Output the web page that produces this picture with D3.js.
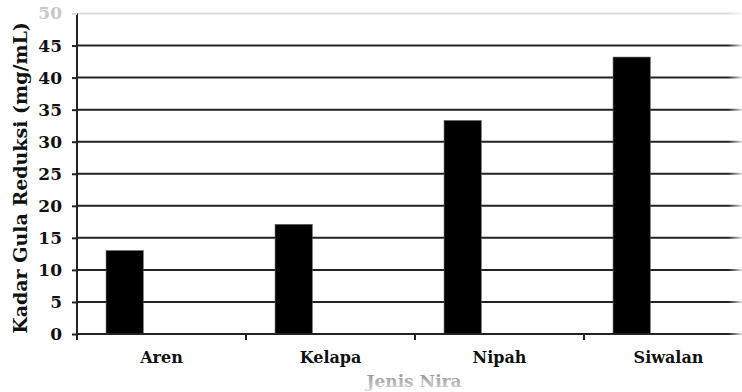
<!DOCTYPE html>
<html>
<head>
<meta charset="utf-8">
<script src="https://cdn.jsdelivr.net/npm/d3@7"></script>
<style>
  body { margin: 0; background: #fff; }
  svg text { font-family: "DejaVu Serif", "Liberation Serif", serif; font-weight: bold; }
</style>
</head>
<body>
<div id="vis"></div>
<script>
'use strict'

// jenis nira dan kadar gula reduksi (mg/mL)
const categories = ["Aren", "Kelapa", "Nipah", "Siwalan"]
const values = [13.0, 17.1, 33.3, 43.2]
const yTicks = [0, 5, 10, 15, 20, 25, 30, 35, 40, 45, 50]

const width = 742, height = 392
const margin = {left: 77, top: 13.5, bottom: 58}

let svg = d3.select("#vis").append("svg")
  .attr("width", width)
  .attr("height", height)

let defs = svg.append("defs")
let grad = defs.append("linearGradient").attr("id", "fadeTitle")
  .attr("x1", 0).attr("y1", 0).attr("x2", 0).attr("y2", 1)
grad.append("stop").attr("offset", "0%").attr("stop-color", "#8a8a8a")
grad.append("stop").attr("offset", "100%").attr("stop-color", "#d8d8d8")

let gradR = defs.append("linearGradient").attr("id", "fadeRight")
  .attr("x1", 0).attr("y1", 0).attr("x2", 1).attr("y2", 0)
gradR.append("stop").attr("offset", "0%").attr("stop-color", "#fff").attr("stop-opacity", 0)
gradR.append("stop").attr("offset", "100%").attr("stop-color", "#fff").attr("stop-opacity", 0.85)

// plot runs past the right edge of the picture
let x = d3.scaleBand()
  .domain(categories)
  .range([margin.left, margin.left + 4 * 169])
  .padding(0)

let y = d3.scaleLinear()
  .domain([0, 50])
  .range([height - margin.bottom, margin.top])

// gridlines
svg.append("g").selectAll("line")
  .data(yTicks.filter(d => d > 0))
  .join("line")
  .attr("x1", margin.left)
  .attr("x2", width)
  .attr("y1", d => y(d))
  .attr("y2", d => y(d))
  .attr("stroke", d => d == 50 ? "#dcdcdc" : "#222")
  .attr("stroke-width", 2)

// bars
svg.append("g").selectAll("rect")
  .data(categories)
  .join("rect")
  .attr("x", d => x(d) + x.bandwidth() * 0.172)
  .attr("width", x.bandwidth() * 0.22)
  .attr("y", (d, i) => y(values[i]))
  .attr("height", (d, i) => y(0) - y(values[i]))
  .attr("fill", "#000")
  .attr("stroke", "#555")
  .attr("stroke-width", 0.6)

// y axis
let yAxis = svg.append("g")
  .attr("transform", "translate(" + margin.left + ",0)")
  .call(d3.axisLeft(y).tickValues(yTicks).tickSize(5).tickPadding(10))
yAxis.select(".domain").attr("stroke", "#222").attr("stroke-width", 2)
  .attr("d", "M0," + margin.top + "V" + (y(0) + 6))
yAxis.selectAll(".tick line").attr("stroke", "#222").attr("stroke-width", 2)
yAxis.selectAll(".tick text")
  .style("font-size", "17px")
  .attr("fill", d => d == 50 ? "#c8c8c8" : "#111")
yAxis.selectAll(".tick").filter(d => d == 50).select("line").attr("stroke", "#dcdcdc")

// x axis
let xAxis = svg.append("g")
  .attr("transform", "translate(0," + y(0) + ")")
  .call(d3.axisBottom(x).tickSize(0).tickPadding(18))
xAxis.select(".domain").attr("stroke", "#222").attr("stroke-width", 2)
  .attr("d", "M" + margin.left + ",0H" + width)
xAxis.selectAll(".tick text").style("font-size", "16px").attr("fill", "#111")

// category boundary ticks
svg.append("g").selectAll("line")
  .data(categories)
  .join("line")
  .attr("x1", d => x(d))
  .attr("x2", d => x(d))
  .attr("y1", y(0))
  .attr("y2", y(0) + 6)
  .attr("stroke", "#222")
  .attr("stroke-width", 2)

// fade at the right edge
svg.append("rect")
  .attr("x", width - 14).attr("y", 0)
  .attr("width", 14).attr("height", y(0) + 8)
  .attr("fill", "url(#fadeRight)")

// axis titles
svg.append("text")
  .attr("transform", "translate(27,178) rotate(-90)")
  .attr("text-anchor", "middle")
  .style("font-size", "19px")
  .attr("fill", "#111")
  .text("Kadar Gula Reduksi (mg/mL)")

svg.append("text")
  .attr("x", 414)
  .attr("y", 387)
  .attr("text-anchor", "middle")
  .style("font-size", "17px")
  .attr("fill", "url(#fadeTitle)")
  .text("Jenis Nira")
</script>
</body>
</html>
